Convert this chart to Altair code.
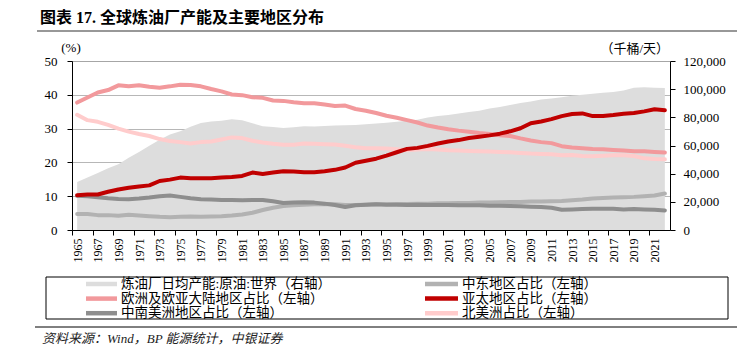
import altair as alt
import pandas as pd

# ---------------- data ----------------
years = list(range(1965, 2023))

capacity = [34000, 37200, 40500, 43800, 46600, 51300, 55300, 59800, 64000, 67800,
            70100, 73400, 76000, 77000, 77600, 78600, 77900, 75800, 73700, 73200,
            72500, 72900, 73700, 73500, 73900, 74200, 74400, 74600, 75100, 75600,
            76100, 76800, 77500, 78200, 79900, 80900, 81600, 82800, 83800, 84700,
            86200, 87400, 88800, 90200, 91200, 92600, 93400, 94300, 95300, 96000,
            96700, 97400, 97900, 99100, 101000, 101300, 101000, 100800]

europe = [37.7, 39.2, 40.7, 41.4, 42.8, 42.5, 42.8, 42.4, 42.1, 42.5,
          43.0, 42.9, 42.5, 41.7, 41.0, 40.1, 39.9, 39.3, 39.1, 38.3,
          38.2, 37.8, 37.5, 37.5, 37.1, 36.7, 36.8, 35.8, 35.3, 34.6,
          33.8, 33.2, 32.5, 31.8, 30.9, 30.3, 29.8, 29.4, 29.1, 28.7,
          28.4, 28.0, 27.8, 27.1, 26.5, 26.0, 25.7, 24.8, 24.4, 24.2,
          24.0, 23.9, 23.7, 23.5, 23.3, 23.3, 23.1, 22.9]

asia = [10.3, 10.5, 10.5, 11.3, 12.0, 12.5, 12.9, 13.2, 14.5, 14.9,
        15.5, 15.3, 15.3, 15.3, 15.5, 15.7, 16.0, 17.0, 16.6, 17.0,
        17.4, 17.3, 17.1, 17.1, 17.4, 17.8, 18.5, 19.9, 20.5, 21.1,
        22.0, 23.0, 24.0, 24.3, 24.9, 25.6, 26.2, 26.6, 27.2, 27.6,
        28.0, 28.5, 29.2, 30.1, 31.6, 32.1, 32.8, 33.7, 34.3, 34.5,
        33.7, 33.7, 34.0, 34.4, 34.6, 35.1, 35.7, 35.4]

north_america = [34.1, 32.5, 32.0, 31.1, 30.0, 29.1, 28.4, 27.8, 26.9, 26.3,
                 26.0, 25.6, 26.0, 26.2, 26.8, 27.4, 27.2, 26.4, 25.9, 25.5,
                 25.2, 25.2, 25.6, 25.5, 25.4, 25.3, 24.9, 24.5, 24.2, 24.2,
                 24.1, 23.9, 23.6, 23.8, 24.0, 23.8, 23.6, 23.5, 23.4, 23.3,
                 23.2, 23.1, 23.0, 22.8, 22.6, 22.5, 22.4, 22.1, 22.2, 21.9,
                 21.8, 22.0, 22.1, 22.1, 21.9, 21.2, 21.0, 20.9]

middle_east = [4.7, 4.7, 4.4, 4.4, 4.2, 4.5, 4.3, 4.1, 3.9, 3.8,
               3.9, 4.0, 3.9, 4.0, 4.1, 4.3, 4.6, 5.1, 5.9, 6.6,
               7.1, 7.3, 7.5, 7.6, 7.7, 7.6, 7.4, 7.4, 7.5, 7.6,
               7.6, 7.7, 7.7, 7.8, 7.8, 7.9, 7.9, 8.0, 8.0, 8.1,
               8.1, 8.2, 8.3, 8.3, 8.4, 8.4, 8.5, 8.6, 8.8, 9.0,
               9.3, 9.5, 9.6, 9.7, 9.8, 10.0, 10.2, 10.8]

south_america = [10.1, 10.0, 9.7, 9.4, 9.2, 9.1, 9.3, 9.6, 10.0, 10.2,
                 9.8, 9.4, 9.1, 9.0, 8.9, 8.9, 8.8, 8.9, 8.9, 8.5,
                 8.0, 8.1, 8.2, 8.1, 7.8, 7.4, 6.8, 7.3, 7.5, 7.6,
                 7.5, 7.5, 7.4, 7.5, 7.4, 7.4, 7.4, 7.3, 7.3, 7.3,
                 7.2, 7.2, 7.1, 7.0, 6.9, 6.8, 6.6, 6.0, 6.1, 6.2,
                 6.3, 6.3, 6.3, 6.1, 6.2, 6.1, 6.0, 5.8]

names = ["炼油厂日均产能:原油:世界（右轴）", "中东地区占比（左轴）",
         "欧洲及欧亚大陆地区占比（左轴）", "亚太地区占比（左轴）",
         "中南美洲地区占比（左轴）", "北美洲占比（左轴）"]
colors = ["#DDDDDD", "#B2B2B2", "#F2999C", "#C00000", "#8E8E8E", "#FFCCCC"]

left_ticks = [0, 10, 20, 30, 40, 50]
right_ticks = [0, 20000, 40000, 60000, 80000, 100000, 120000]
x_tick_bounds = [y - 0.5 for y in years[::2]]  # category boundaries, every 2 years

title_text = "图表 17.  全球炼油厂产能及主要地区分布"
source_text = "资料来源：Wind，BP 能源统计，中银证券"
left_unit = "(%)"
right_unit = "（千桶/天）"

# ---------------- tables ----------------
area_df = pd.DataFrame({"year": years, "cap": capacity})
series_map = [(names[2], europe), (names[5], north_america), (names[1], middle_east),
              (names[4], south_america), (names[3], asia)]
rows = []
for nm, vals in series_map:
    for yr, v in zip(years, vals):
        rows.append({"year": yr, "series": nm, "v": v})
line_df = pd.DataFrame(rows)

W, H = 598, 169
SERIF = "Liberation Serif, Noto Sans CJK SC"
half_year_px = W / (len(years)) / 2

x_scale = alt.Scale(domain=[years[0] - 0.5, years[-1] + 0.5], nice=False, zero=False)
x_axis = alt.Axis(values=x_tick_bounds, labelExpr="format(datum.value + 0.5, 'd')",
                  labelOffset=half_year_px, labelAngle=-90, labelAlign="right",
                  labelBaseline="middle", labelOverlap=False, labelSeparation=0,
                  labelFlush=False, labelFont=SERIF, labelFontSize=12, labelColor="black",
                  labelPadding=3, tickSize=5, tickColor="black", domainColor="black",
                  grid=False, title=None)

area = alt.Chart(area_df).mark_area(color="#DDDDDD", opacity=1).encode(
    x=alt.X("year:Q", scale=x_scale, axis=x_axis),
    y=alt.Y("cap:Q", scale=alt.Scale(domain=[0, 120000], nice=False),
            axis=alt.Axis(orient="right", values=right_ticks,
                          labelExpr="format(datum.value, ',')", grid=False,
                          labelFont=SERIF, labelFontSize=13, labelColor="black",
                          labelPadding=8, tickSize=5, tickColor="black",
                          domainColor="black", title=None)),
)

lines = alt.Chart(line_df).mark_line(strokeWidth=4, strokeCap="round", strokeJoin="round").encode(
    x=alt.X("year:Q", scale=x_scale, axis=x_axis),
    y=alt.Y("v:Q", scale=alt.Scale(domain=[0, 50], nice=False),
            axis=alt.Axis(orient="left", values=left_ticks, grid=True,
                          gridDash=[1, 1], gridColor="#6f6f6f", gridWidth=1,
                          labelFont=SERIF, labelFontSize=13, labelColor="black",
                          labelPadding=10, tickSize=5, tickColor="black",
                          domainColor="black", title=None)),
    color=alt.Color("series:N", scale=alt.Scale(domain=names, range=colors), legend=None),
    order="year:Q",
)


def one(text):
    return alt.Chart(pd.DataFrame({"t": [text]}))


title = one(title_text).mark_text(align="left", baseline="middle", fontSize=16,
                                  fontWeight="bold", font="Liberation Serif, Noto Sans CJK SC",
                                  color="black").encode(
    text="t:N", x=alt.value(-32), y=alt.value(-43))
title_rule = one("").mark_rule(color="#333333", strokeWidth=1.2).encode(
    x=alt.value(-35), x2=alt.value(665), y=alt.value(-30))
unit_l = one(left_unit).mark_text(align="center", baseline="middle", fontSize=13,
                                  font=SERIF, color="black").encode(
    text="t:N", x=alt.value(-1), y=alt.value(-13))
unit_r = one(right_unit).mark_text(align="right", baseline="middle", fontSize=13,
                                   font=SERIF, color="black").encode(
    text="t:N", x=alt.value(597), y=alt.value(-12))
legend_box = one("").mark_rect(fill=None, stroke="black", strokeWidth=1).encode(
    x=alt.value(-26), x2=alt.value(656), y=alt.value(216), y2=alt.value(258))
src_rule = one("").mark_rule(color="black", strokeWidth=1).encode(
    x=alt.value(-37), x2=alt.value(665), y=alt.value(266))
source = one(source_text).mark_text(align="left", baseline="middle", fontSize=13,
                                    fontStyle="italic", font=SERIF, color="#222222").encode(
    text="t:N", x=alt.value(-30), y=alt.value(278))

# legend: two columns, three rows (entries ordered row by row)
leg_cols = [(14, 45, 49), (353, 386, 390)]  # symbol start, symbol end, text start
leg_rows = [223, 237.6, 252.2]
legend_layers = []
for i, (nm, col) in enumerate(zip(names, colors)):
    sx0, sx1, tx = leg_cols[i % 2]
    ly = leg_rows[i // 2]
    legend_layers.append(one("").mark_rule(color=col, strokeWidth=4.5).encode(
        x=alt.value(sx0), x2=alt.value(sx1), y=alt.value(ly)))
    legend_layers.append(one(nm).mark_text(align="left", baseline="middle", fontSize=13.5,
                                           font=SERIF, color="black").encode(
        text="t:N", x=alt.value(tx), y=alt.value(ly)))

chart = alt.layer(area, lines, title, title_rule, unit_l, unit_r, legend_box,
                  *legend_layers, src_rule, source).resolve_scale(y="independent").properties(
    width=W, height=H,
    autosize=alt.AutoSizeParams(type="none"),
    padding={"left": 72, "top": 61, "right": 67, "bottom": 126},
).configure_view(stroke=None).configure(background="white")

chart.save("out.html", embed_options={"renderer": "svg", "actions": False})
